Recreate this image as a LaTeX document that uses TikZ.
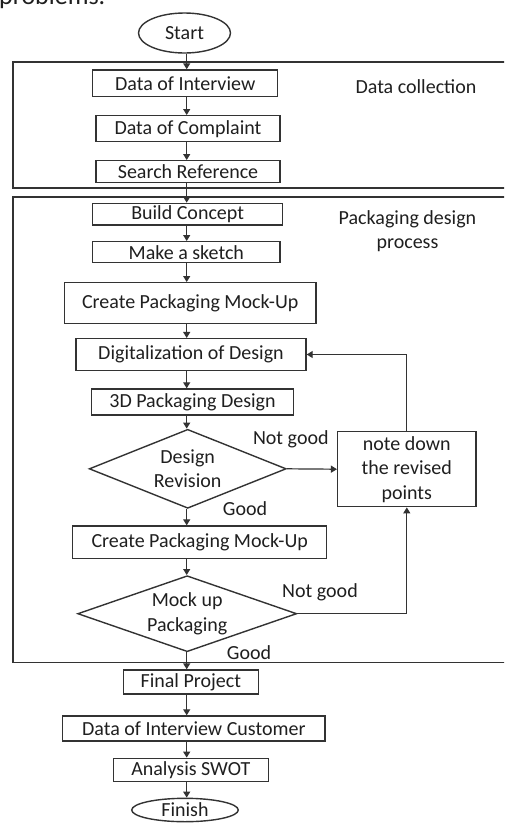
\documentclass[tikz,border=0pt]{standalone}
\usepackage{fontspec}
\setmainfont{Carlito}
\usetikzlibrary{shapes.geometric,arrows.meta}
\begin{document}
\begin{tikzpicture}[x=1pt,y=-1pt,
  every node/.style={font=\fontsize{20}{24.5}\selectfont, text=black!88},
  line/.style={line width=1.4pt, draw=black!80},
  proc/.style={rectangle, line, inner sep=0pt},
  frame/.style={line width=1.6pt, draw=black!80},
  dia/.style={diamond, line, inner sep=0pt},
  term/.style={ellipse, line, inner sep=0pt},
  arr/.style={line width=1.2pt, draw=black!80, -{Triangle[length=6pt,width=7pt]}},
  lbl/.style={inner sep=0pt}
]
\useasboundingbox (0,0) rectangle (504,823);
\clip (0,0) rectangle (504,823);

% cropped caption text at the top
\node[lbl, anchor=base west, font=\fontsize{26}{30}\selectfont] (cap) at (-1,4) {problems.};

% frames
\draw[frame] (12.7,61.7) rectangle (530,188);
\draw[frame] (12.7,196.7) rectangle (530,662.3);
\node[lbl] (dctext) at (416,87) {Data collection};
\node[lbl, align=center] (pdtext) at (407.5,231) {Packaging design\\process};

% column x
\coordinate (col) at (186.7,0);

% nodes
\node[term, minimum width=92pt, minimum height=40pt] (start) at (184.5,33) {};
\node[lbl] at (start) {Start};
\node[proc, minimum width=185pt, minimum height=26.7pt] (di) at (185.2,83.3) {Data of Interview};
\node[proc, minimum width=184pt, minimum height=26pt] (dc) at (188,128.7) {Data of Complaint};
\node[proc, minimum width=184pt, minimum height=22pt] (sr) at (188,171.7) {Search Reference};

\node[proc, minimum width=190pt, minimum height=21.7pt] (bc) at (187.7,214.2) {Build Concept};
\node[proc, minimum width=187.3pt, minimum height=21pt] (ms) at (186.3,252.2) {Make a sketch};
\node[proc, minimum width=251.7pt, minimum height=40.6pt] (cpm1) at (190.2,303) {Create Packaging Mock-Up};
\node[proc, minimum width=230pt, minimum height=31.7pt] (dd) at (191,354.5) {Digitalization of Design};
\node[proc, minimum width=201.7pt, minimum height=26pt] (tdd) at (192.5,402) {3D Packaging Design};

\node[dia, minimum width=197pt, minimum height=79pt] (dr) at (187.7,468.8) {};
\node[lbl, align=center] at (dr) {Design\\Revision};
\node[proc, minimum width=138.3pt, minimum height=75pt, align=center] (note) at (406.8,469.2) {note down\\the revised\\points};
\node[proc, minimum width=254pt, minimum height=32.3pt] (cpm2) at (199.7,542.2) {Create Packaging Mock-Up};

\node[dia, minimum width=219pt, minimum height=76pt] (mp) at (187.2,613.7) {};
\node[lbl, align=center] at (mp) {Mock up\\Packaging};

\node[proc, minimum width=135pt, minimum height=24pt] (fp) at (190.8,682) {Final Project};
\node[proc, minimum width=262.3pt, minimum height=25pt] (dic) at (193.8,728.5) {Data of Interview Customer};
\node[proc, minimum width=155pt, minimum height=23.4pt] (swot) at (190.8,770) {Analysis SWOT};
\node[term, minimum width=106.6pt, minimum height=23.4pt] (finish) at (185,810) {};
\node[lbl] at (finish) {Finish};

% labels
\node[lbl] (ng1) at (290.8,439.3) {Not good};
\node[lbl] (g1) at (245,509) {Good};
\node[lbl] (ng2) at (320,592.7) {Not good};
\node[lbl] (g2) at (249,652.7) {Good};

% main column arrows
\foreach \a/\b in {start/di, di/dc, dc/sr, sr/bc, bc/ms, ms/cpm1, cpm1/dd, dd/tdd, tdd/dr, dr/cpm2, cpm2/mp, mp/fp, fp/dic, dic/swot, swot/finish}
  \draw[arr] (\a.south -| col) -- (\b.north -| col);

% side connectors
\draw[arr] (dr.east) -- (note.west);
\draw[arr] (note.north) |- (dd.east);
\draw[arr] (mp.east) -| (note.south);
\end{tikzpicture}
\end{document}
